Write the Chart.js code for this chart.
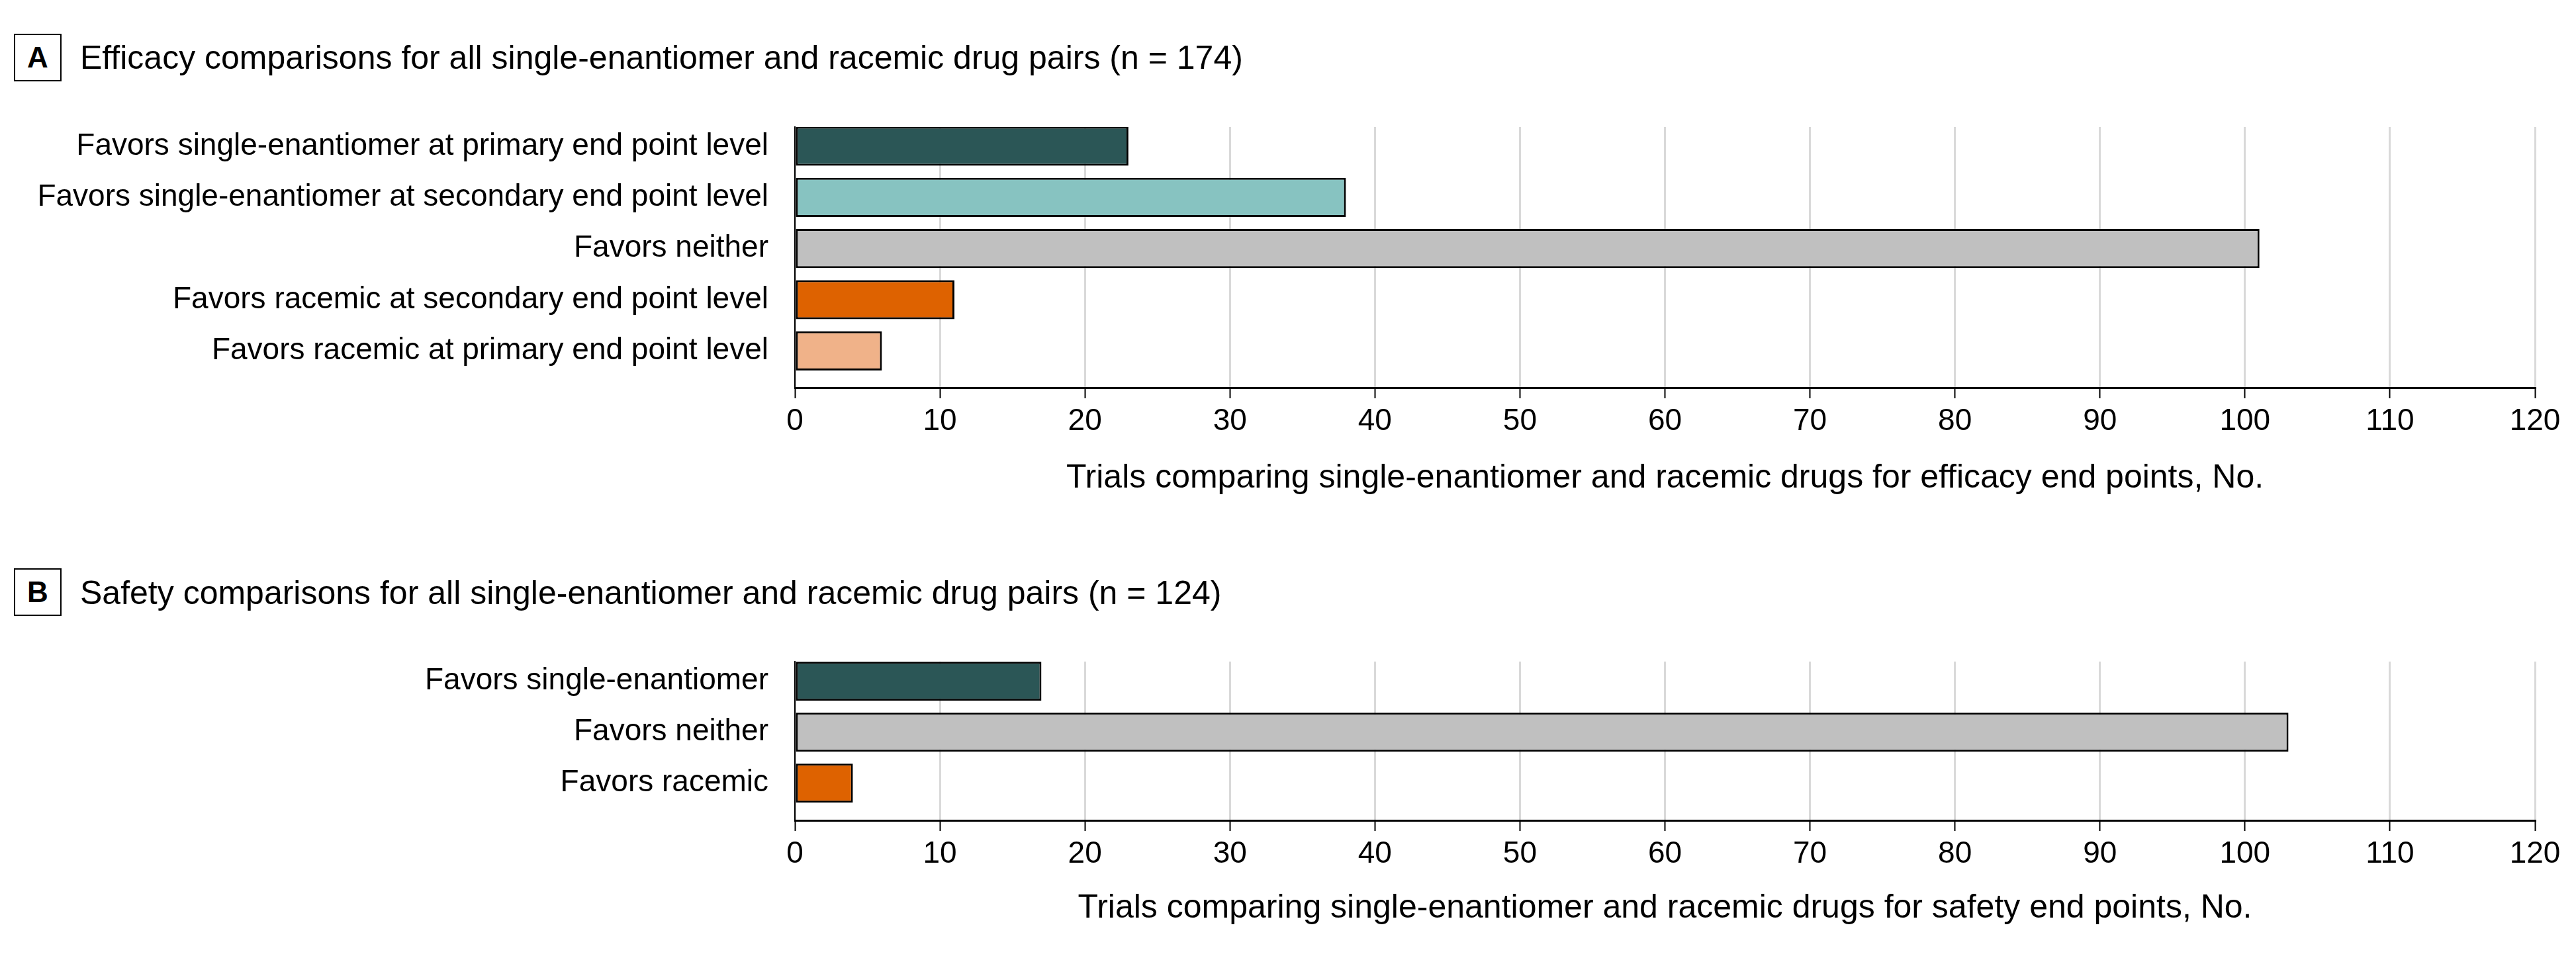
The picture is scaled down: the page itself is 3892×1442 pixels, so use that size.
<!DOCTYPE html>
<html>
<head>
<meta charset="utf-8">
<script src="https://cdn.jsdelivr.net/npm/chart.js@4"></script>
<style>
  body { margin: 0; background: #fff; }
  #page { position: relative; width: 3892px; height: 1442px; background: #fff; font-family: "Liberation Sans", Arial, sans-serif; color: #000; }
  .tag { position: absolute; left: 21px; width: 72px; height: 72px; box-sizing: border-box; border: 2px solid #000;
         display: flex; align-items: center; justify-content: center; font-weight: bold; font-size: 44px; line-height: 1; }
  .title { position: absolute; left: 121px; font-size: 50px; line-height: 1; white-space: nowrap; }
  .chart { position: absolute; left: 0; width: 3892px; }
</style>
</head>
<body>
<div id="page">
  <div class="tag" style="top:51px">A</div>
  <div class="title" style="top:62px">Efficacy comparisons for all single-enantiomer and racemic drug pairs (n = 174)</div>
  <div class="chart" style="top:0px;height:780px"><canvas id="chartA"></canvas></div>

  <div class="tag" style="top:859px">B</div>
  <div class="title" style="top:871px">Safety comparisons for all single-enantiomer and racemic drug pairs (n = 124)</div>
  <div class="chart" style="top:800px;height:634px"><canvas id="chartB"></canvas></div>
</div>

<script>
// data
const efficacyCategories = [
  "Favors single-enantiomer at primary end point level",
  "Favors single-enantiomer at secondary end point level",
  "Favors neither",
  "Favors racemic at secondary end point level",
  "Favors racemic at primary end point level",
];
const efficacyValues = [23, 38, 101, 11, 6];

const safetyCategories = [
  "Favors single-enantiomer",
  "Favors neither",
  "Favors racemic",
];
const safetyValues = [17, 103, 4];

const xTickValues = [0, 10, 20, 30, 40, 50, 60, 70, 80, 90, 100, 110, 120];

const efficacyTitle = "Trials comparing single-enantiomer and racemic drugs for efficacy end points, No.";
const safetyTitle = "Trials comparing single-enantiomer and racemic drugs for safety end points, No.";

// colours
const efficacyColors = ["#2b5656", "#87c3c1", "#c0c0c0", "#de6200", "#f0b289"];
const safetyColors = ["#2b5656", "#c0c0c0", "#de6200"];

const FONT = "'Liberation Sans', Arial, sans-serif";

function makeChart(id, categories, values, colors, axisTitle, yMin, yMax, layoutTop, titlePadBottom) {
  const ctx = document.getElementById(id).getContext("2d");
  return new Chart(ctx, {
    type: "bar",
    data: {
      datasets: [{
        data: values.map((v, i) => ({ x: v, y: i })),
        backgroundColor: colors,
        borderColor: "#000",
        borderWidth: 3,
        borderSkipped: false,
        categoryPercentage: 1,
        barPercentage: 0.765,
      }],
    },
    options: {
      indexAxis: "y",
      responsive: true,
      maintainAspectRatio: false,
      animation: false,
      layout: { padding: { top: layoutTop, right: 62, bottom: 0, left: 0 } },
      plugins: { legend: { display: false }, tooltip: { enabled: false } },
      scales: {
        x: {
          type: "linear",
          min: 0,
          max: 120,
          afterBuildTicks: (scale) => { scale.ticks = xTickValues.map((v) => ({ value: v })); },
          afterFit: (scale) => { scale.height = 194; },
          grid: { color: "#d9d9d9", lineWidth: 3, tickColor: "#000", tickWidth: 2, tickLength: 16 },
          border: { display: true, color: "#000", width: 3 },
          ticks: { color: "#000", padding: 8, maxRotation: 0, font: { family: FONT, size: 46 } },
          title: {
            display: true,
            text: axisTitle,
            color: "#000",
            font: { family: FONT, size: 50 },
            padding: { top: 0, bottom: titlePadBottom },
          },
        },
        y: {
          type: "linear",
          reverse: true,
          offset: false,
          min: yMin,
          max: yMax,
          afterBuildTicks: (scale) => { scale.ticks = categories.map((c, i) => ({ value: i })); },
          afterFit: (scale) => { scale.width = 1201; },
          grid: { display: false, drawTicks: false, offset: false },
          border: { display: true, color: "#000", width: 2 },
          ticks: {
            color: "#000",
            padding: 40,
            autoSkip: false,
            font: { family: FONT, size: 46 },
            callback: (v) => categories[v] ?? "",
          },
        },
      },
    },
  });
}

makeChart("chartA", efficacyCategories, efficacyValues, efficacyColors, efficacyTitle, -0.375, 4.72, 192, 27);
makeChart("chartB", safetyCategories, safetyValues, safetyColors, safetyTitle, -0.385, 2.73, 200, 31);
</script>
</body>
</html>
